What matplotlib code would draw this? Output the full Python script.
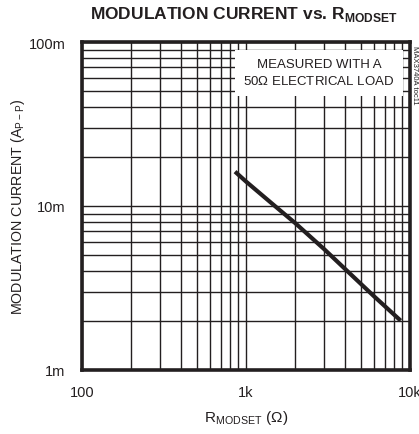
import matplotlib
matplotlib.use("Agg")
import matplotlib.pyplot as plt
from matplotlib.ticker import FixedLocator, NullFormatter

plt.rcParams['font.family'] = ['Liberation Sans', 'DejaVu Sans']
plt.rcParams['mathtext.fontset'] = 'custom'
plt.rcParams['mathtext.rm'] = 'Liberation Sans'
plt.rcParams['mathtext.bf'] = 'Liberation Sans:bold'

# --------------DATA--------------
r_modset = [857, 1000, 1500, 2000, 3000, 4000, 6000, 8770]          # ohm
i_mod = [16.2e-3, 14.1e-3, 10.0e-3, 7.85e-3, 5.45e-3, 4.15e-3, 2.83e-3, 2.0e-3]  # A p-p

x_ticks = [100, 1000, 10000]
x_labels = ['100', '1k', '10k']
y_ticks = [1e-3, 1e-2, 1e-1]
y_labels = ['1m', '10m', '100m']

INK = '#231f20'

fig = plt.figure(figsize=(4.19, 4.35), dpi=100)
ax = fig.add_axes([82/419, 1 - 371/435, 328/419, 328/435])

ax.set_xscale('log')
ax.set_yscale('log')
ax.set_xlim(100, 10000)
ax.set_ylim(1e-3, 1e-1)

ax.plot(r_modset, i_mod, color=INK, lw=3, solid_capstyle='butt', zorder=3)

ax.xaxis.set_major_locator(FixedLocator(x_ticks))
ax.yaxis.set_major_locator(FixedLocator(y_ticks))
ax.set_xticklabels(x_labels)
ax.set_yticklabels(y_labels)
minors = [m * 10**e for e in range(-3, 5) for m in range(2, 10)]
ax.xaxis.set_minor_locator(FixedLocator(minors))
ax.yaxis.set_minor_locator(FixedLocator(minors))
ax.xaxis.set_minor_formatter(NullFormatter())
ax.yaxis.set_minor_formatter(NullFormatter())
ax.tick_params(which='both', length=0, labelsize=10.5, colors=INK)
ax.tick_params(axis='x', pad=11)
ax.tick_params(axis='y', pad=12)

ax.grid(True, which='both', color=INK, lw=1.0)
for s in ax.spines.values():
    s.set_linewidth(2.6)
    s.set_color(INK)

ax.text(0.722, 0.906, 'MEASURED WITH A\n50$\\Omega$ ELECTRICAL LOAD', transform=ax.transAxes,
        ha='center', va='center', fontsize=9.5, linespacing=1.4, color=INK,
        bbox=dict(facecolor='white', edgecolor='none', pad=6), zorder=4)

ax.set_xlabel('R$_{\\mathregular{MODSET}}$ ($\\Omega$)', fontsize=11, labelpad=6, color=INK)
ax.set_ylabel('MODULATION CURRENT (A$_{\\mathregular{P-P}}$)', fontsize=10.3, color=INK, va='center')
ax.yaxis.set_label_coords(-64/328, 0.5)

fig.text(244/419, 1 - 14/435, 'MODULATION CURRENT vs. R$_{\\mathbf{MODSET}}$', ha='center', va='center',
         fontsize=12.5, fontweight='bold', color=INK)
fig.text(414/419, 1 - 75/435, 'MAX3740A toc11', rotation=-90, ha='center', va='center',
         fontsize=5.5, color=INK)

fig.savefig('out.png', dpi=100)
